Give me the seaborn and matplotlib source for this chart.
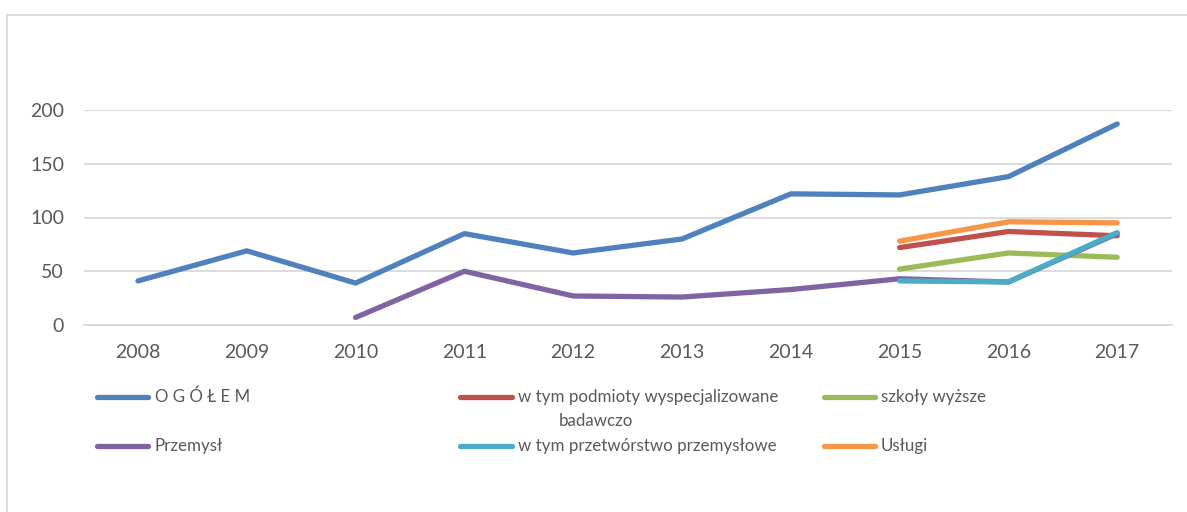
import numpy as np
import pandas as pd
import matplotlib
matplotlib.use("Agg")
import matplotlib.pyplot as plt
from matplotlib.lines import Line2D
import seaborn as sns

years = [2008, 2009, 2010, 2011, 2012, 2013, 2014, 2015, 2016, 2017]
ogolem = [41, 69, 39, 85, 67, 80, 122, 121, 138, 187]
podmioty = [None, None, None, None, None, None, None, 72, 87, 83]
szkoly = [None, None, None, None, None, None, None, 52, 67, 63]
przemysl = [None, None, 7, 50, 27, 26, 33, 43, 40, 85]
przetworstwo = [None, None, None, None, None, None, None, 41, 40, 86]
uslugi = [None, None, None, None, None, None, None, 78, 96, 95]

series_names = ["O G Ó Ł E M", "w tym podmioty wyspecjalizowane badawczo",
                "szkoły wyższe", "Przemysł", "w tym przetwórstwo przemysłowe", "Usługi"]
series_values = [ogolem, podmioty, szkoly, przemysl, przetworstwo, uslugi]
colors = ["#4F81BD", "#C0504D", "#9BBB59", "#8064A2", "#4BACC6", "#F79646"]
ytick_vals = [0, 50, 100, 150, 200]

rows = []
for name, vals in zip(series_names, series_values):
    for i, v in enumerate(vals):
        if v is not None:
            rows.append({"idx": i, "value": v, "series": name})
df = pd.DataFrame(rows)

sns.set_style("white")
plt.rcParams['font.family'] = ['Lato', 'DejaVu Sans']

W, H = 1187, 512
fig = plt.figure(figsize=(W / 100, H / 100), dpi=100)
left, right, top, bottom = 83.6, 1171.6, 110, 325
ax = fig.add_axes([left / W, 1 - bottom / H, (right - left) / W, (bottom - top) / H])

sns.lineplot(data=df, x="idx", y="value", hue="series", hue_order=series_names,
             palette=colors, estimator=None, sort=False, legend=False,
             linewidth=3.8, solid_capstyle="round", ax=ax, zorder=3)

ax.set_xlim(-0.5, 9.5)
ax.set_ylim(0, 200)
ax.set_xticks(range(len(years)))
ax.set_xticklabels([str(y) for y in years])
ax.set_yticks(ytick_vals)
ax.set_yticklabels([str(v) for v in ytick_vals])
ax.set_xlabel("")
ax.set_ylabel("")
ax.grid(axis="y", color="#D9D9D9", linewidth=1.3, zorder=0)
ax.grid(axis="x", visible=False)
ax.set_axisbelow(True)
for s in ax.spines.values():
    s.set_visible(False)
ax.spines["bottom"].set_visible(True)
ax.spines["bottom"].set_color("#D9D9D9")
ax.spines["bottom"].set_linewidth(1.3)
ax.tick_params(axis="both", length=0, labelsize=14, colors="#595959")
ax.tick_params(axis="x", pad=14)
ax.tick_params(axis="y", pad=14)

# chart border
fig.add_artist(Line2D([7 / W, 7 / W], [0, 1 - 15 / H], transform=fig.transFigure,
                      color="#D9D9D9", linewidth=1.3))
fig.add_artist(Line2D([7 / W, 1], [1 - 15 / H, 1 - 15 / H], transform=fig.transFigure,
                      color="#D9D9D9", linewidth=1.3))

# legend
leg_items = [
    (series_names[0], colors[0], 97, 148, 155, 397),
    (series_names[1], colors[1], 460, 512, 518, 397),
    (series_names[2], colors[2], 824, 875, 881, 397),
    (series_names[3], colors[3], 97, 148, 155, 446),
    (series_names[4], colors[4], 460, 512, 518, 446),
    (series_names[5], colors[5], 824, 875, 881, 446),
]
fs = 12.2
for name, col, x1, x2, tx, y in leg_items:
    fig.add_artist(Line2D([x1 / W, x2 / W], [1 - y / H, 1 - y / H], transform=fig.transFigure,
                          color=col, linewidth=3.8, solid_capstyle="round"))
    if name == series_names[1]:
        fig.text(tx / W, 1 - y / H, "w tym podmioty wyspecjalizowane", ha="left", va="center",
                 fontsize=fs, color="#595959")
        fig.text(559 / W, 1 - 421 / H, "badawczo", ha="left", va="center",
                 fontsize=fs, color="#595959")
    else:
        fig.text(tx / W, 1 - y / H, name, ha="left", va="center", fontsize=fs, color="#595959")

fig.savefig("out.png", dpi=100)
